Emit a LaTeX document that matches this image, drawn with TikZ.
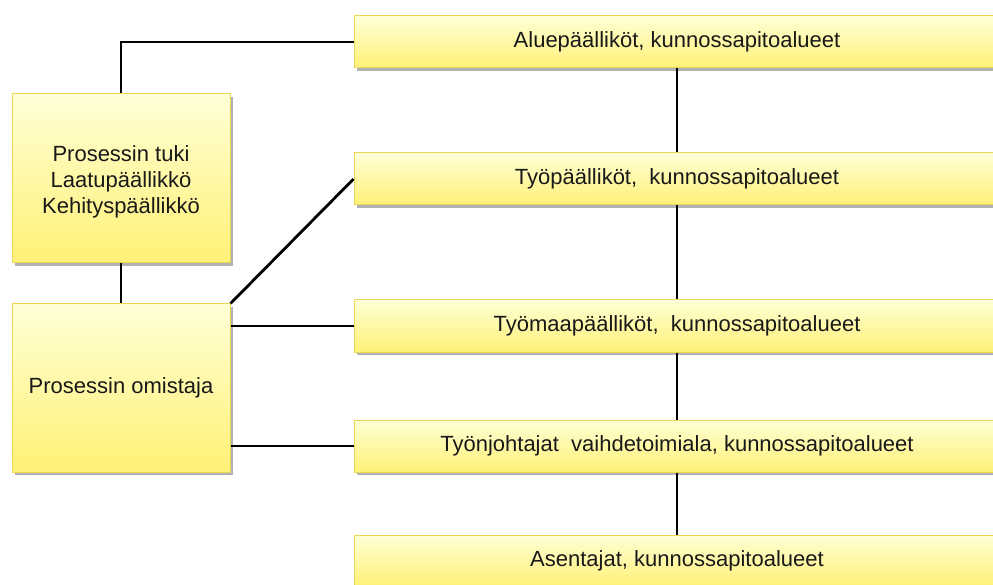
\documentclass[tikz,border=0pt]{standalone}
\usepackage{fontspec}
\setmainfont{Liberation Sans}
\usetikzlibrary{shadows}
\definecolor{boxtop}{HTML}{FFFFD6}
\definecolor{boxbot}{HTML}{FFF176}
\definecolor{boxline}{HTML}{EAD75A}
\tikzset{
  boxfont/.style={font=\fontsize{22}{26}\selectfont, text=black!90},
  orgbox/.style={draw=boxline, line width=1pt, top color=boxtop, bottom color=boxbot,
    inner sep=0pt, boxfont,
    drop shadow={shadow xshift=3pt, shadow yshift=-3pt, opacity=0.3, fill=black}},
  rolebox/.style={orgbox, minimum width=646pt, minimum height=52pt},
  sidebox/.style={orgbox, minimum width=218pt, align=center},
  link/.style={line width=2.8pt, black}
}
\begin{document}
\begin{tikzpicture}[x=1pt, y=-1pt]
  \useasboundingbox (0,0) rectangle (993,585);
  \clip (0,0) rectangle (993,585);

  % organisation levels
  \node[rolebox] (alue)   at (677,42)  {\raisebox{-1pt}{Aluepäälliköt, kunnossapitoalueet}};
  \node[rolebox] (tyop)   at (677,179) {\raisebox{-1pt}{Työpäälliköt,\ \ kunnossapitoalueet}};
  \node[rolebox] (tyomaa) at (677,326) {\raisebox{-1pt}{Työmaapäälliköt,\ \ kunnossapitoalueet}};
  \node[rolebox] (johto)  at (677,446) {\raisebox{-1pt}{Työnjohtajat\ \ vaihdetoimiala, kunnossapitoalueet}};
  \node[rolebox] (asent)  at (677,561) {\raisebox{-1pt}{Asentajat, kunnossapitoalueet}};

  % process roles
  \node[sidebox, minimum height=169pt] (tuki)  at (121,178.5) {};
  \node[boxfont, align=center] (tukitext) at (121,182)
    {Prosessin tuki\\Laatupäällikkö\\Kehityspäällikkö};
  \node[sidebox, minimum height=168pt] (omist) at (121,388) {Prosessin omistaja};

  % hierarchy spine
  \draw[link] (alue.south)   -- (tyop.north);
  \draw[link] (tyop.south)   -- (tyomaa.north);
  \draw[link] (tyomaa.south) -- (johto.north);
  \draw[link] (johto.south)  -- (asent.north);

  % process links
  \draw[link] (tuki.north) |- (alue.west);
  \draw[link] (tuki.south) -- (omist.north);
  \draw[link] (omist.north east) -- (tyop.west);
  \draw[link] (omist.east |- tyomaa.west) -- (tyomaa.west);
  \draw[link] (omist.east |- johto.west) -- (johto.west);
\end{tikzpicture}
\end{document}
